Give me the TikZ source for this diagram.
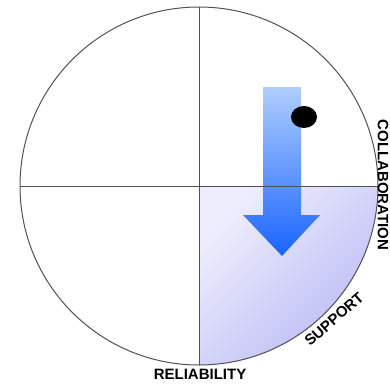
\documentclass[tikz,border=0pt]{standalone}
\usepackage{fontspec}
\setmainfont{Liberation Sans}
\usetikzlibrary{positioning}
\definecolor{lilac}{RGB}{238,238,253}
\definecolor{lavender}{RGB}{186,186,245}
\definecolor{skyblue}{RGB}{175,205,255}
\definecolor{royal}{RGB}{25,100,255}
\definecolor{rim}{RGB}{80,80,90}
\tikzset{
  axislabel/.style={font=\bfseries\fontsize{15}{15}\selectfont,inner sep=0pt},
  rimline/.style={draw=rim,line width=1pt},
}

\begin{document}
\begin{tikzpicture}[x=1pt,y=-1pt]
  \useasboundingbox (0,0) rectangle (390,383);
  % shaded quadrant
  \shade[top color=lilac,bottom color=lavender,shading angle=45]
    (199,186) -- (378,186) arc (0:90:179) -- cycle;
  % arrow
  \shade[top color=skyblue,bottom color=royal]
    (263,87) -- (301,87) -- (301,215) -- (320,215) -- (282,256)
    -- (243,215) -- (263,215) -- cycle;
  % circle and axes
  \draw[rimline] (199,186) circle [radius=179];
  \draw[rimline] (199,7) -- (199,365);
  \draw[rimline] (20,186) -- (378,186);
  \fill (304,117) ellipse [x radius=13,y radius=11];
  % labels
  \node[axislabel,rotate=-90] (collab) at (383,185) {COLLABORATION};
  \node[axislabel,rotate=41] (support) at (334,319) {SUPPORT};
  \node[axislabel] (reliab) at (200,374) {RELIABILITY};
\end{tikzpicture}
\end{document}
